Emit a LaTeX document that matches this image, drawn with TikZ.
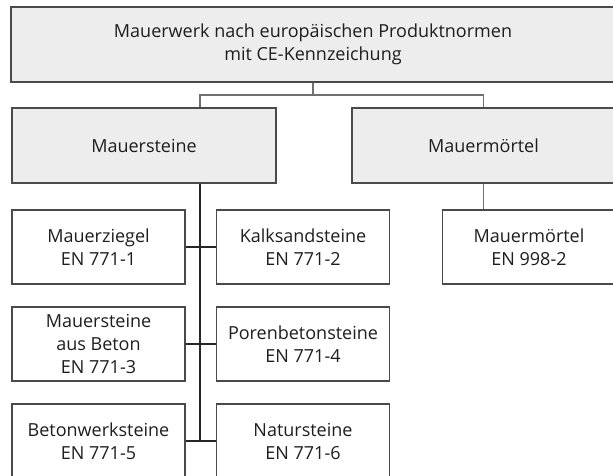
\documentclass[tikz,border=0pt]{standalone}
\usepackage{fontspec}
\setmainfont{Open Sans}
\definecolor{boxgray}{HTML}{EDEDED}
\definecolor{framegray}{HTML}{4A4A4A}
\definecolor{linegray}{HTML}{707070}
\definecolor{textgray}{HTML}{1E1E1E}
\begin{document}
\begin{tikzpicture}[x=0.5pt, y=-0.5pt,
    every node/.style={inner sep=0pt, align=center, text=textgray, font=\fontsize{9}{11.5}\selectfont},
    headbox/.style={draw=framegray, line width=0.6pt, fill=boxgray, minimum height=37.5pt},
    normbox/.style={draw=framegray, line width=0.6pt, fill=white, minimum width=86.5pt, minimum height=37pt},
    greyline/.style={draw=linegray, line width=0.6pt},
    darkline/.style={draw=black!85, line width=0.6pt}]
    \useasboundingbox (0,0) rectangle (613,475);

    \node[headbox, minimum width=302pt] (werk) at (313,44.5) {Mauerwerk nach europäischen Produktnormen\\mit CE-Kennzeichung};
    \node[headbox, minimum width=132pt] (steine) at (144,145.5) {Mauersteine};
    \node[headbox, minimum width=131.5pt] (moertel) at (483.5,145.5) {Mauermörtel};

    \node[normbox] (ziegel) at (98.5,247) {Mauerziegel\\EN 771-1};
    \node[normbox] (kalk) at (303,247) {Kalksandsteine\\EN 771-2};
    \node[normbox] (beton) at (98.5,344) {Mauersteine\\aus Beton\\EN 771-3};
    \node[normbox] (poren) at (303,344) {Porenbetonsteine\\EN 771-4};
    \node[normbox] (werkst) at (98.5,441) {Betonwerksteine\\EN 771-5};
    \node[normbox] (natur) at (303,441) {Natursteine\\EN 771-6};
    \node[normbox] (moertnorm) at (529,247) {Mauermörtel\\EN 998-2};

    \coordinate (fork) at (313,95);
    \coordinate (trunk) at (200,441);

    \draw[greyline] (werk.south) -- (fork);
    \draw[greyline] (fork) -| (steine.north -| trunk);
    \draw[greyline] (fork) -| (moertel.north);
    \draw[greyline] (moertel.south) -- (moertel.south |- moertnorm.north);

    \draw[darkline] (steine.south -| trunk) -- (trunk);
    \draw[darkline] (ziegel.east) -- (kalk.west);
    \draw[darkline] (beton.east) -- (poren.west);
    \draw[darkline] (werkst.east) -- (natur.west);

\end{tikzpicture}
\end{document}
